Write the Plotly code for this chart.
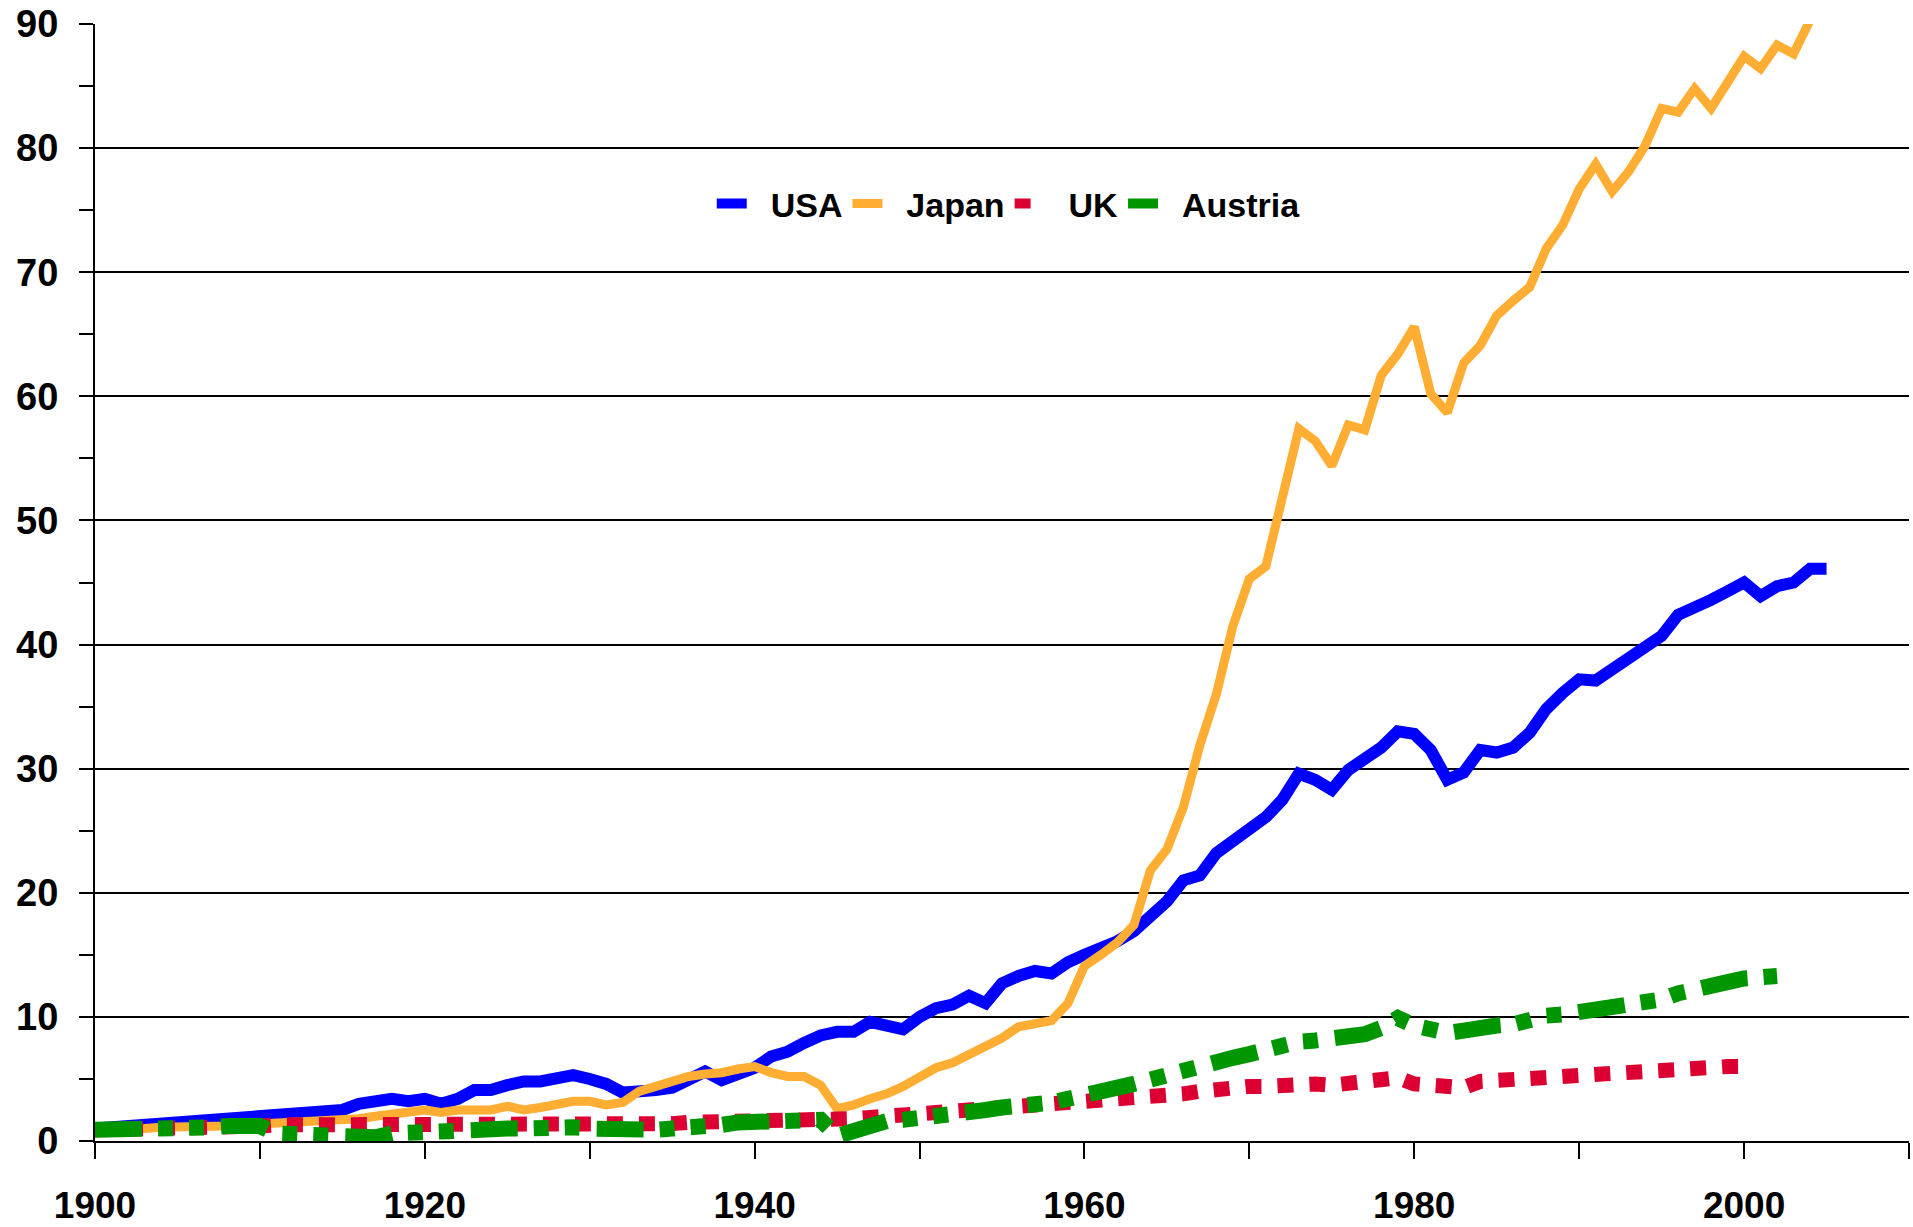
import plotly.graph_objects as go

# yearly index values
usa_years = list(range(1900, 2006))
usa = [
    1.0, 1.1, 1.2, 1.4, 1.6, 1.6, 1.7, 1.8, 1.9, 2.0,
    2.0, 2.1, 2.3, 2.5, 2.5, 2.5, 3.0, 3.2, 3.4, 3.2,
    3.4, 3.0, 3.4, 4.1, 4.1, 4.5, 4.8, 4.8, 5.0, 5.3,
    5.0, 4.6, 3.9, 3.9, 4.1, 4.3, 5.0, 5.6, 4.9, 5.3,
    5.9, 6.8, 7.2, 7.9, 8.5, 8.8, 8.8, 9.6, 9.3, 9.0,
    10.0, 10.7, 11.0, 11.7, 11.1, 12.7, 13.3, 13.7, 13.5, 14.4,
    15.0, 15.5, 16.1, 16.9, 18.2, 19.3, 21.0, 21.4, 23.2, 24.2,
    25.4, 26.1, 27.5, 29.6, 29.1, 28.3, 29.9, 30.7, 31.7, 33.0,
    32.8, 31.5, 29.1, 29.7, 31.5, 31.3, 31.7, 32.9, 34.8, 36.1,
    37.2, 37.1, 38.0, 38.7, 39.7, 40.7, 42.4, 42.9, 43.6, 44.3,
    45.0, 43.9, 44.7, 45.0, 46.1, 46.1,
]

japan_years = list(range(1900, 2005))
japan = [
    0.9, 0.9, 1.0, 1.0, 1.1, 1.1, 1.2, 1.2, 1.2, 1.3,
    1.35, 1.45, 1.6, 1.6, 1.6, 1.6, 1.8, 2.0, 2.2, 2.4,
    2.5, 2.3, 2.5, 2.5, 2.5, 2.8, 2.5, 2.7, 3.0, 3.2,
    3.2, 2.9, 3.1, 4.0, 4.4, 4.8, 5.2, 5.4, 5.5, 5.8,
    6.0, 5.5, 5.2, 5.2, 4.5, 2.6, 2.9, 3.4, 3.8, 4.4,
    5.2, 5.9, 6.3, 7.0, 7.5, 8.3, 9.2, 9.5, 9.7, 11.1,
    14.1, 15.0, 16.0, 17.4, 21.8, 23.5, 26.9, 31.9, 36.0, 41.5,
    45.3, 46.3, 51.7, 57.4, 56.4, 54.4, 57.7, 57.3, 61.7, 63.4,
    65.6, 60.2, 58.7, 62.7, 64.1, 66.5, 67.7, 68.8, 71.9, 73.8,
    76.7, 78.7, 76.5, 78.1, 80.2, 83.2, 82.9, 84.8, 83.2, 85.4,
    87.4, 86.4, 88.3, 87.6, 90.3,
]

uk_years = list(range(1900, 2001))
uk = [
    0.9, 0.9, 1.0, 1.0, 1.0, 1.1, 1.1, 1.1, 1.2, 1.2,
    1.2, 1.3, 1.3, 1.4, 1.4, 1.4, 1.4, 1.4, 1.3, 1.2,
    1.2, 1.1, 1.1, 1.2, 1.2, 1.2, 1.2, 1.2, 1.2, 1.3,
    1.2, 1.2, 1.3, 1.4, 1.4, 1.4, 1.5, 1.5, 1.6, 1.6,
    1.7, 1.7, 1.8, 1.8, 1.8, 1.7, 1.8, 1.9, 2.0, 2.0,
    2.0, 2.1, 2.2, 2.3, 2.4, 2.5, 2.6, 2.6, 2.7, 2.9,
    3.0, 3.1, 3.3, 3.5, 3.6, 3.7, 3.8, 4.0, 4.2, 4.4,
    4.4, 4.4, 4.5, 4.7, 4.6, 4.5, 4.6, 4.7, 4.9, 5.1,
    4.6, 4.4, 4.2, 4.3, 4.8, 4.9, 5.0, 5.0, 5.1, 5.1,
    5.1, 5.2, 5.3, 5.4, 5.6, 5.7, 5.8, 5.9, 6.0, 6.0,
    6.0,
]

austria_years = list(range(1900, 2003))
austria = [
    0.9, 0.9, 0.9, 0.9, 0.9, 0.9, 0.8, 1.1, 1.2, 1.2,
    1.2, 0.6, 0.5, 0.4, 0.3, 0.2, 0.2, 0.3, 0.6, 0.7,
    0.7, 0.8, 0.9, 1.0, 1.0, 1.0, 1.0, 1.1, 1.1, 1.1,
    1.0, 0.9, 0.9, 0.9, 0.9, 1.0, 1.0, 1.1, 1.3, 1.5,
    1.5, 1.6, 1.7, 1.7, 1.7, 0.4, 0.9, 1.3, 1.6, 1.7,
    1.8, 2.0, 2.1, 2.2, 2.5, 2.7, 2.8, 2.8, 3.1, 3.4,
    3.6, 3.9, 4.3, 4.6, 5.0, 5.3, 5.6, 5.9, 6.3, 6.7,
    7.0, 7.3, 7.9, 8.0, 8.1, 8.2, 8.3, 8.6, 9.1, 9.9,
    9.3, 9.0, 8.7, 8.9, 9.2, 9.3, 9.4, 9.9, 10.1, 10.2,
    10.4, 10.6, 10.8, 11.0, 11.0, 11.4, 11.9, 12.3, 12.6, 12.8,
    13.1, 13.3, 13.3,
]

x_ticks = list(range(1900, 2001, 20))

FONT = "Liberation Sans, Arial, sans-serif"
PAD = "\u00a0\u00a0"  # keeps the gap between legend swatch and label

fig = go.Figure()
fig.add_trace(go.Scatter(x=usa_years, y=usa, name=PAD + "USA", mode="lines",
                         line=dict(color="#0000ff", width=12)))
fig.add_trace(go.Scatter(x=japan_years, y=japan, name=PAD + "Japan", mode="lines",
                         line=dict(color="#ffad33", width=9)))
fig.add_trace(go.Scatter(x=uk_years, y=uk, name=PAD + "UK", mode="lines",
                         line=dict(color="#dc0032", width=15, dash="16px,16px")))
fig.add_trace(go.Scatter(x=austria_years, y=austria, name=PAD + "Austria", mode="lines",
                         line=dict(color="#009600", width=16,
                                   dash="47px,16px,15px,16px,15px,17px")))

fig.update_layout(
    width=1913,
    height=1227,
    plot_bgcolor="white",
    paper_bgcolor="white",
    margin=dict(l=95, r=4, t=24, b=86, autoexpand=False),
    font=dict(family=FONT, size=34, color="black", weight="bold"),
    legend=dict(
        orientation="h",
        x=0.340,
        y=0.839,
        xanchor="left",
        yanchor="middle",
        bgcolor="rgba(0,0,0,0)",
        font=dict(size=34, weight="bold"),
    ),
)

fig.update_xaxes(
    range=[1900, 2010],
    tickvals=x_ticks,
    ticks="outside",
    ticklen=16,
    tickwidth=2,
    tickcolor="black",
    ticklabelstandoff=15,
    minor=dict(dtick=10, tick0=1900, ticks="outside", ticklen=16,
               tickwidth=2, tickcolor="black", showgrid=False),
    showgrid=False,
    zeroline=False,
    showline=True,
    linecolor="black",
    linewidth=2,
    automargin=False,
    tickfont=dict(size=37, weight="bold"),
)

fig.update_yaxes(
    range=[0, 90],
    dtick=10,
    ticks="outside",
    ticklen=14,
    tickwidth=2,
    tickcolor="black",
    ticklabelstandoff=13,
    minor=dict(dtick=5, ticks="outside", ticklen=14, tickwidth=2,
               tickcolor="black", showgrid=False),
    showgrid=True,
    gridcolor="black",
    gridwidth=2,
    zeroline=False,
    showline=True,
    linecolor="black",
    linewidth=2,
    automargin=False,
    tickfont=dict(size=38, weight="bold"),
)

# the page's default body margin would push the figure out of the window
fig.write_html(
    "out.html",
    config={"displayModeBar": False},
    post_script="document.body.style.margin = '0';",
)
